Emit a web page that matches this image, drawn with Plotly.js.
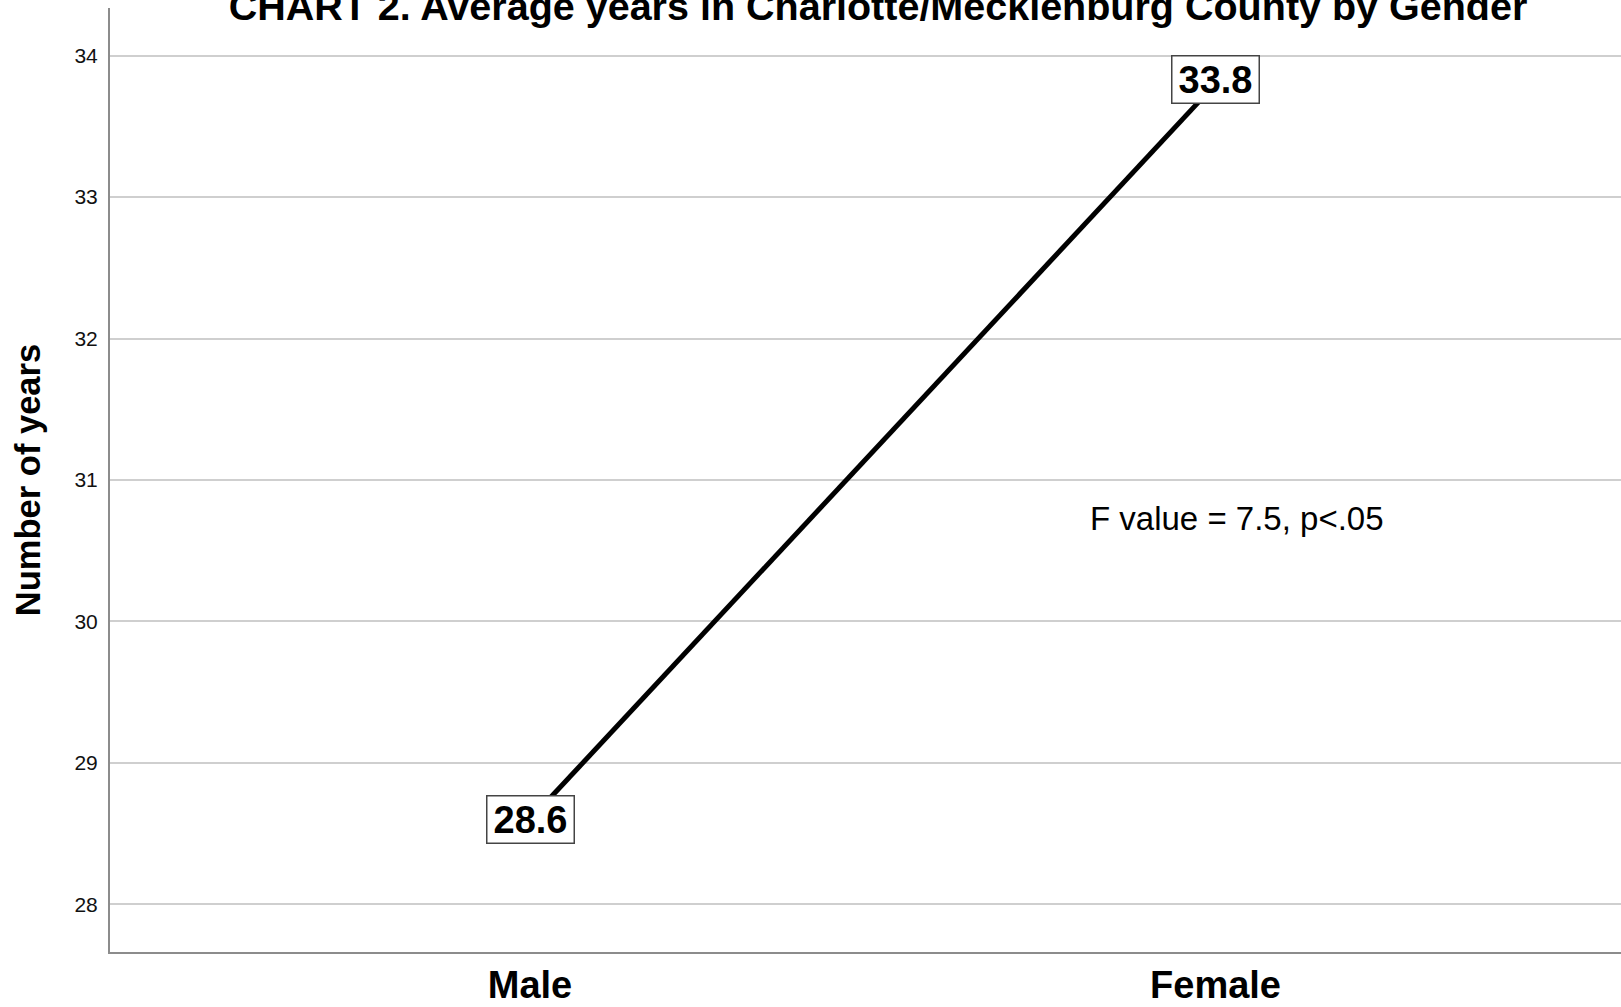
<!DOCTYPE html>
<html>
<head>
<meta charset="utf-8">
<script src="https://cdn.plot.ly/plotly-3.0.1.min.js"></script>
<style>
html, body { margin: 0; padding: 0; background: #ffffff; }
#chart { width: 1621px; height: 1007px; }
</style>
</head>
<body>
<div id="chart"></div>
<script>
// ---- data ----
const categories = ['Male', 'Female'];
const meanYears = [28.6, 33.8];
const yTickValues = [28, 29, 30, 31, 32, 33, 34];
const yTickLabels = ['28', '29', '30', '31', '32', '33', '34'];
const chartTitle = 'CHART 2. Average years in Charlotte/Mecklenburg County by Gender';
const yAxisTitle = 'Number of years';
const statNote = 'F value = 7.5, p&lt;.05';
const statNoteX = 1.032;   // position (in category units) of the note
const statNoteY = 30.73;   // position (in years) of the note

const FONT = 'Arial, "Liberation Sans", Helvetica, sans-serif';

const trace = {
  type: 'scatter',
  mode: 'lines',
  x: categories,
  y: meanYears,
  line: { color: '#000000', width: 5 },
  hoverinfo: 'x+y',
  showlegend: false
};

const valueLabels = meanYears.map((v, i) => ({
  x: categories[i],
  y: v,
  xref: 'x',
  yref: 'y',
  text: v.toFixed(1),
  showarrow: false,
  font: { family: FONT, size: 38, color: '#000000', weight: 'bold' },
  bgcolor: '#ffffff',
  bordercolor: '#444444',
  borderwidth: 1.5,
  borderpad: 1,
  width: 84,
  height: 44,
  yshift: i === 1 ? 4 : 0
}));

const layout = {
  width: 1621,
  height: 1007,
  paper_bgcolor: '#ffffff',
  plot_bgcolor: '#ffffff',
  margin: { l: 110, r: 0, t: 8, b: 55, pad: 0 },
  font: { family: FONT, color: '#000000' },
  title: {
    text: chartTitle,
    font: { family: FONT, size: 39.5, color: '#000000', weight: 'bold' },
    xref: 'container',
    yref: 'container',
    x: 878 / 1621,
    xanchor: 'center',
    y: 1 - 19.5 / 1007,
    yanchor: 'bottom'
  },
  xaxis: {
    type: 'category',
    range: [-0.6127, 1.5915],
    showgrid: false,
    zeroline: false,
    showline: true,
    linecolor: '#8c8c8c',
    linewidth: 2,
    ticks: '',
    tickfont: { family: FONT, size: 38, color: '#000000', weight: 'bold' },
    ticklabelstandoff: -2,
    fixedrange: true
  },
  yaxis: {
    range: [27.664, 34.336],
    tickmode: 'array',
    tickvals: yTickValues,
    ticktext: yTickLabels,
    showgrid: true,
    gridcolor: '#cfcfcf',
    gridwidth: 2,
    zeroline: false,
    showline: true,
    linecolor: '#8c8c8c',
    linewidth: 2,
    ticks: '',
    tickfont: { family: FONT, size: 21, color: '#111111' },
    ticklabelstandoff: 6,
    title: {
      text: yAxisTitle,
      font: { family: FONT, size: 34.5, color: '#000000', weight: 'bold' },
      standoff: 23
    },
    fixedrange: true
  },
  annotations: valueLabels.concat([{
    x: statNoteX,
    y: statNoteY,
    xref: 'x',
    yref: 'y',
    text: statNote,
    showarrow: false,
    font: { family: FONT, size: 33, color: '#000000' },
    xanchor: 'center',
    yanchor: 'middle'
  }])
};

Plotly.newPlot('chart', [trace], layout, { displayModeBar: false, staticPlot: true });
</script>
</body>
</html>
